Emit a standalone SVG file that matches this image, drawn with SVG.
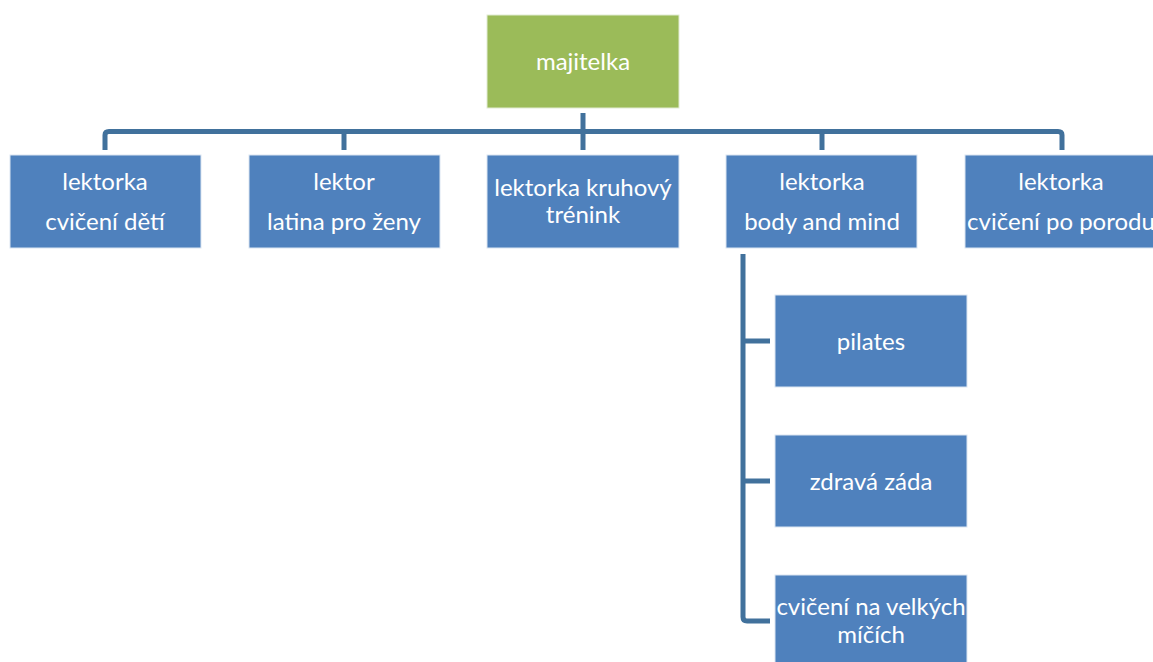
<svg xmlns="http://www.w3.org/2000/svg" width="1153" height="662" viewBox="0 0 1153 662">
  <style>
    .box { fill: #4F81BD; stroke: #DCE6F2; stroke-width: 1; }
    .root { fill: #9BBB59; stroke: #E2EBD3; stroke-width: 1; }
    .lbl { font-family: Lato, "Liberation Sans", Arial, sans-serif; font-size: 24px; fill: #FFFFFF; text-anchor: middle; }
    .conn { fill: none; stroke: #41719C; stroke-width: 5; stroke-linejoin: round; }
  </style>
  <rect width="1153" height="662" fill="#FFFFFF"/>

  <!-- connectors -->
  <g id="connectors">
    <path class="conn" d="M583 113 V150"/>
    <path class="conn" d="M105 150 V135 Q105 131.5 109 131.5 H1058 Q1062 131.5 1062 135 V150"/>
    <path class="conn" d="M344 131.5 V150"/>
    <path class="conn" d="M822 131.5 V150"/>
    <path class="conn" d="M743 254 V617 Q743 621 747 621 H770"/>
    <path class="conn" d="M743 341 H770"/>
    <path class="conn" d="M743 481 H770"/>
  </g>

  <g id="node-majitelka">
    <rect class="root" x="487" y="15" width="192" height="93"/>
    <text class="lbl" x="583" y="70">majitelka</text>
  </g>

  <g id="node-cviceni-deti">
    <rect class="box" x="10" y="155" width="191" height="93"/>
    <text class="lbl" x="105" y="190">lektorka</text>
    <text class="lbl" x="105" y="230">cvičení dětí</text>
  </g>

  <g id="node-latina">
    <rect class="box" x="249" y="155" width="191" height="93"/>
    <text class="lbl" x="344" y="190">lektor</text>
    <text class="lbl" x="344" y="230">latina pro ženy</text>
  </g>

  <g id="node-kruhovy">
    <rect class="box" x="487" y="155" width="192" height="93"/>
    <text class="lbl" x="583" y="196">lektorka kruhový</text>
    <text class="lbl" x="583" y="223">trénink</text>
  </g>

  <g id="node-body-mind">
    <rect class="box" x="726" y="155" width="191" height="93"/>
    <text class="lbl" x="822" y="190">lektorka</text>
    <text class="lbl" x="822" y="230">body and mind</text>
  </g>

  <g id="node-po-porodu">
    <rect class="box" x="965" y="155" width="192" height="93"/>
    <text class="lbl" x="1061" y="190">lektorka</text>
    <text class="lbl" x="1061" y="230">cvičení po porodu</text>
  </g>

  <g id="node-pilates">
    <rect class="box" x="775" y="295" width="192" height="92"/>
    <text class="lbl" x="871" y="350">pilates</text>
  </g>

  <g id="node-zdrava-zada">
    <rect class="box" x="775" y="435" width="192" height="92"/>
    <text class="lbl" x="871" y="490">zdravá záda</text>
  </g>

  <g id="node-mice">
    <rect class="box" x="775" y="575" width="192" height="93"/>
    <text class="lbl" x="871" y="615">cvičení na velkých</text>
    <text class="lbl" x="871" y="643">míčích</text>
  </g>
</svg>
